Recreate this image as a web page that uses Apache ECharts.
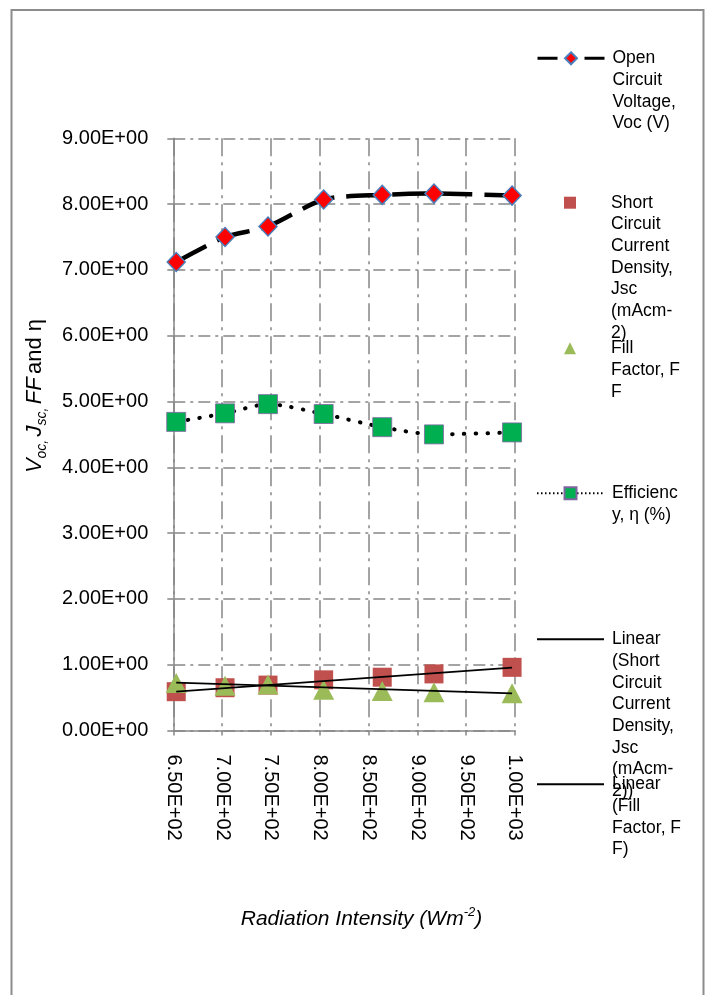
<!DOCTYPE html>
<html>
<head>
<meta charset="utf-8">
<script src="https://cdn.jsdelivr.net/npm/echarts@6/dist/echarts.min.js"></script>
<style>
  html, body { margin: 0; padding: 0; background: #fff; }
  #chart { width: 707px; height: 995px; }
</style>
</head>
<body>
<div id="chart"></div>
<script>
// Measured solar-cell parameters versus incident radiation intensity (W m^-2)
const radiation   = [653, 703, 747, 804, 864, 917, 997];
const voc         = [7.12, 7.50, 7.66, 8.07, 8.14, 8.16, 8.13];
const jsc         = [0.59, 0.65, 0.69, 0.77, 0.81, 0.86, 0.96];
const fillFactor  = [0.72, 0.68, 0.70, 0.62, 0.60, 0.58, 0.565];
const efficiency  = [4.69, 4.82, 4.96, 4.81, 4.61, 4.50, 4.53];

// Linear trend lines (end points over the measured range)
const trendX      = [653, 997];
const jscTrend    = [0.59, 0.955];
const ffTrend     = [0.727, 0.565];

// Axis tick labels
const xTickLabels = ['6.50E+02', '7.00E+02', '7.50E+02', '8.00E+02', '8.50E+02', '9.00E+02', '9.50E+02', '1.00E+03'];
const yTickLabels = ['0.00E+00', '1.00E+00', '2.00E+00', '3.00E+00', '4.00E+00', '5.00E+00', '6.00E+00', '7.00E+00', '8.00E+00', '9.00E+00'];

const seriesNames = [
  'Open Circuit Voltage, Voc (V)',
  'Short Circuit Current Density, Jsc (mAcm-2)',
  'Fill Factor, F F',
  'Efficiency, η (%)',
  'Linear (Short Circuit Current Density, Jsc (mAcm-2))',
  'Linear (Fill Factor, F F)'
];
const legendLines = [
  ['Open', 'Circuit', 'Voltage,', 'Voc (V)'],
  ['Short', 'Circuit', 'Current', 'Density,', 'Jsc', '(mAcm-', '2)'],
  ['Fill', 'Factor, F', 'F'],
  ['Efficienc', 'y, η (%)'],
  ['Linear', '(Short', 'Circuit', 'Current', 'Density,', 'Jsc', '(mAcm-', '2))'],
  ['Linear', '(Fill', 'Factor, F', 'F)']
];

const X_MIN = 650, X_MAX = 1000, X_STEP = 50;
const Y_MIN = 0, Y_MAX = 9, Y_STEP = 1;

const FONT = '"Liberation Sans", Arial, sans-serif';
const GRID_GRAY = '#868686';

const pairs = (xs, ys) => xs.map((x, i) => [x, ys[i]]);

// One legend block per series, stacked down the right-hand side.
// The text hangs from the icon: blank lines above keep the first
// line level with the icon, and a rich token sets the left indent.
const LH = 21.7;
const legendIconY = [58.3, 202.7, 348.3, 493.3, 639.3, 784.3];
function legendFor(i, cfg) {
  const n = legendLines[i].length;
  const textStyle = { fontFamily: FONT, fontSize: 17.5, lineHeight: LH, color: '#000' };
  return Object.assign({
    data: [seriesNames[i]],
    orient: 'vertical',
    left: cfg.left,
    top: legendIconY[i] - (n - 1) * LH - LH / 2,
    padding: 0,
    itemWidth: cfg.w,
    itemHeight: cfg.h,
    selectedMode: false,
    formatter: () => '\n'.repeat(n - 1) + legendLines[i].map(l => '{t|' + l + '}').join('\n'),
    textStyle: Object.assign({}, textStyle, {
      rich: { t: Object.assign({}, textStyle, { padding: [0, 0, 0, cfg.pl] }) }
    })
  }, cfg.extra || {});
}

const chart = echarts.init(document.getElementById('chart'), null, { renderer: 'canvas' });

chart.setOption({
  animation: false,
  backgroundColor: '#fff',
  grid: { left: 173.3, top: 138.3, width: 341.7, height: 592.2, containLabel: false },
  xAxis: {
    type: 'value',
    min: X_MIN, max: X_MAX, interval: X_STEP,
    axisLine: { show: true, onZero: false, lineStyle: { color: GRID_GRAY, width: 1.5 } },
    axisTick: { show: true, inside: false, length: 5, lineStyle: { color: GRID_GRAY, width: 1.5 } },
    axisLabel: {
      rotate: -90, margin: 24, color: '#000', fontFamily: FONT, fontSize: 20,
      formatter: v => xTickLabels[Math.round((v - X_MIN) / X_STEP)]
    },
    splitLine: { show: true, lineStyle: { color: GRID_GRAY, width: 1.5, type: [18, 6, 3, 6] } }
  },
  yAxis: {
    type: 'value',
    min: Y_MIN, max: Y_MAX, interval: Y_STEP,
    axisLine: { show: true, lineStyle: { color: GRID_GRAY, width: 1.5 } },
    axisTick: { show: true, inside: false, length: 6, lineStyle: { color: GRID_GRAY, width: 1.5 } },
    axisLabel: {
      margin: 25, color: '#000', fontFamily: FONT, fontSize: 20,
      formatter: v => yTickLabels[Math.round((v - Y_MIN) / Y_STEP)]
    },
    splitLine: { show: true, lineStyle: { color: GRID_GRAY, width: 1.5, type: [12, 5, 3, 5] } }
  },
  legend: [
    legendFor(0, { left: 536, w: 67, h: 15, pl: 3,
      extra: { lineStyle: { type: [20, 27], width: 3 } } }),
    legendFor(1, { left: 564, w: 12, h: 12, pl: 30 }),
    legendFor(2, { left: 564, w: 12, h: 12, pl: 30 }),
    legendFor(3, { left: 536, w: 67, h: 15, pl: 3,
      extra: { lineStyle: { type: [1.5, 2.5], width: 2, cap: 'butt' } } }),
    legendFor(4, { left: 536, w: 67, h: 15, pl: 3,
      extra: { itemStyle: { opacity: 0 }, lineStyle: { width: 2 } } }),
    legendFor(5, { left: 536, w: 67, h: 15, pl: 3,
      extra: { itemStyle: { opacity: 0 }, lineStyle: { width: 2 } } })
  ],
  series: [
    {
      name: seriesNames[0], type: 'line', data: pairs(radiation, voc),
      smooth: 0.25, symbol: 'diamond', symbolSize: [18, 19], z: 3,
      lineStyle: { color: '#000', width: 4.5, type: [34, 12] },
      itemStyle: { color: '#FF0000', borderColor: '#4A7EBB', borderWidth: 1.5 }
    },
    {
      name: seriesNames[1], type: 'scatter', data: pairs(radiation, jsc),
      symbol: 'rect', symbolSize: 19, z: 3,
      itemStyle: { color: '#C0504D', opacity: 1 }
    },
    {
      name: seriesNames[2], type: 'scatter', data: pairs(radiation, fillFactor),
      symbol: 'triangle', symbolSize: [21, 20], z: 3,
      itemStyle: { color: '#9BBB59', opacity: 1 }
    },
    {
      name: seriesNames[3], type: 'line', data: pairs(radiation, efficiency),
      smooth: 0.25, symbol: 'rect', symbolSize: 19, z: 3,
      lineStyle: { color: '#000', width: 4, type: [0.5, 11.2], cap: 'round' },
      itemStyle: { color: '#00B050', borderColor: '#8064A2', borderWidth: 0.8 }
    },
    {
      name: seriesNames[4], type: 'line', data: pairs(trendX, jscTrend),
      symbol: 'none', z: 4,
      lineStyle: { color: '#000', width: 1.8 }
    },
    {
      name: seriesNames[5], type: 'line', data: pairs(trendX, ffTrend),
      symbol: 'none', z: 4,
      lineStyle: { color: '#000', width: 1.8 }
    }
  ],
  graphic: [
    {
      type: 'rect', z: -10, silent: true,
      shape: { x: 11.5, y: 10, width: 692, height: 1000 },
      style: { fill: 'none', stroke: '#8c8c8c', lineWidth: 2 }
    },
    {
      type: 'text', x: 35, y: 396, rotation: Math.PI / 2, silent: true,
      style: {
        text: '{i|V}{s|oc,} {i|J}{s|sc,} {i|FF} {n|and η}',
        align: 'center', verticalAlign: 'middle',
        rich: {
          i: { fontFamily: FONT, fontSize: 22, fontStyle: 'italic', fill: '#000', lineHeight: 28, verticalAlign: 'middle' },
          s: { fontFamily: FONT, fontSize: 14, fontStyle: 'italic', fill: '#000', lineHeight: 28, verticalAlign: 'bottom' },
          n: { fontFamily: FONT, fontSize: 22, fill: '#000', lineHeight: 28, verticalAlign: 'middle' }
        }
      }
    },
    {
      type: 'text', x: 361.5, y: 919, silent: true,
      style: {
        text: '{i|Radiation Intensity (Wm}{p|-2}{i|)}',
        align: 'center', verticalAlign: 'middle',
        rich: {
          i: { fontFamily: FONT, fontSize: 21, fontStyle: 'italic', fill: '#000', lineHeight: 26, verticalAlign: 'middle' },
          p: { fontFamily: FONT, fontSize: 13, fontStyle: 'italic', fill: '#000', lineHeight: 26, verticalAlign: 'top' }
        }
      }
    }
  ]
});
</script>
</body>
</html>
